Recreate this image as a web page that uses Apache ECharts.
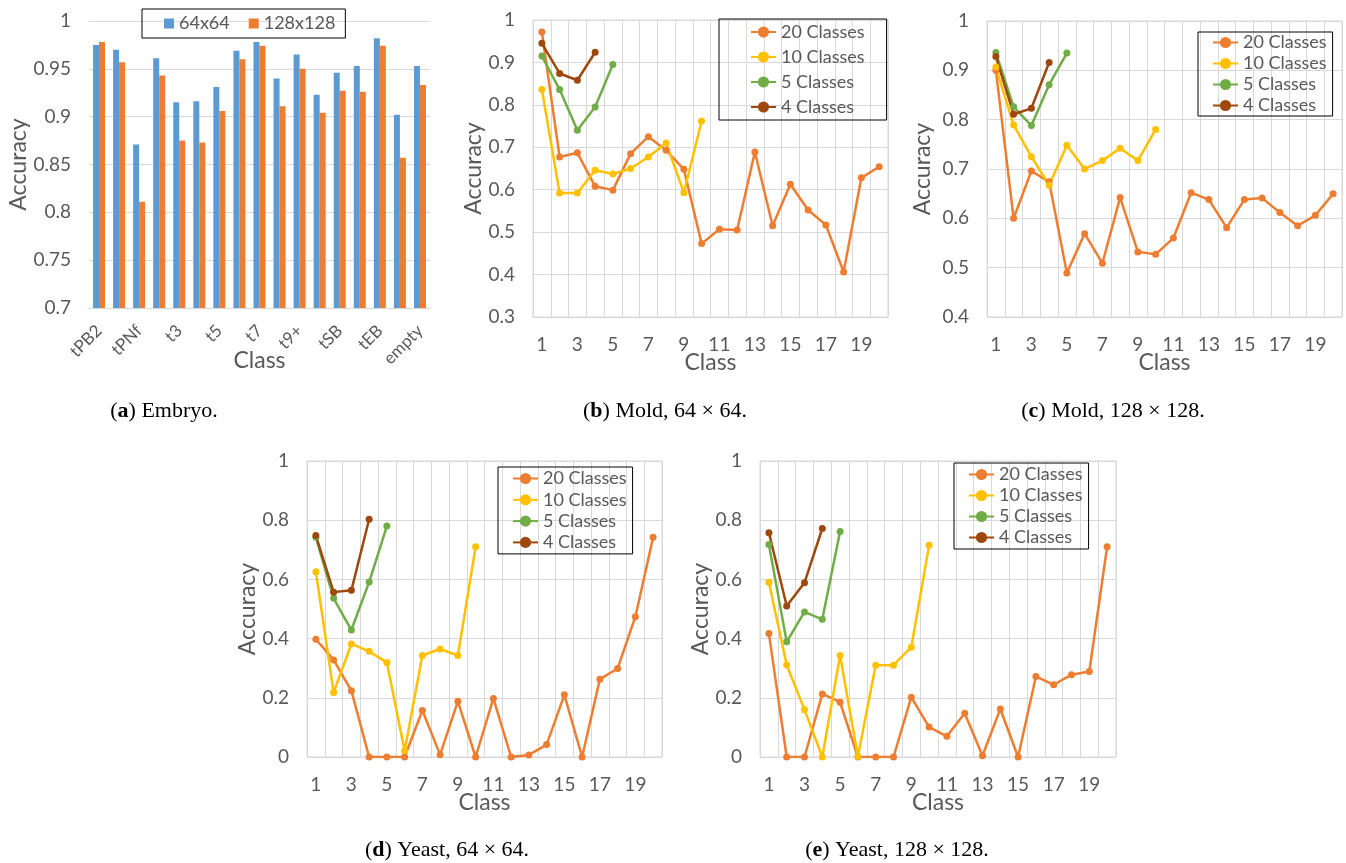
<!DOCTYPE html>
<html>
<head>
<meta charset="utf-8">
<script src="https://cdn.jsdelivr.net/npm/echarts@6/dist/echarts.min.js"></script>
<style>
html,body{margin:0;padding:0;background:#fff;}
#main{width:1346px;height:863px;}
</style>
</head>
<body>
<div id="main"></div>
<script>
// ---------- DATA ----------
const embryoClasses = ['tPB2','tPNa','tPNf','t2','t3','t4','t5','t6','t7','t8','t9+','tM','tSB','tB','tEB','tHB','empty'];
const embryo64  = [0.975,0.970,0.871,0.961,0.915,0.916,0.931,0.969,0.978,0.940,0.965,0.923,0.946,0.953,0.982,0.902,0.953];
const embryo128 = [0.978,0.957,0.811,0.943,0.875,0.873,0.906,0.960,0.974,0.911,0.950,0.904,0.927,0.926,0.974,0.857,0.933];

const classLabels = ['1','2','3','4','5','6','7','8','9','10','11','12','13','14','15','16','17','18','19','20'];
const seriesNames = ['20 Classes','10 Classes','5 Classes','4 Classes'];

// (b) Mold 64x64
const mold64_20 = [0.972,0.677,0.687,0.608,0.599,0.685,0.725,0.693,0.648,0.473,0.507,0.505,0.689,0.515,0.613,0.552,0.517,0.406,0.628,0.654];
const mold64_10 = [0.836,0.592,0.592,0.646,0.637,0.650,0.677,0.710,0.593,0.762];
const mold64_5  = [0.915,0.836,0.740,0.795,0.895];
const mold64_4  = [0.945,0.874,0.858,0.924];

// (c) Mold 128x128
const mold128_20 = [0.900,0.600,0.696,0.674,0.489,0.569,0.509,0.642,0.532,0.527,0.560,0.652,0.638,0.581,0.638,0.641,0.612,0.585,0.606,0.650];
const mold128_10 = [0.907,0.789,0.725,0.667,0.748,0.700,0.717,0.742,0.717,0.780];
const mold128_5  = [0.936,0.826,0.788,0.871,0.935];
const mold128_4  = [0.928,0.811,0.823,0.916];

// (d) Yeast 64x64
const yeast64_20 = [0.398,0.328,0.224,0,0,0,0.157,0.008,0.188,0,0.198,0,0.007,0.042,0.210,0,0.263,0.299,0.474,0.742];
const yeast64_10 = [0.626,0.218,0.382,0.357,0.319,0.021,0.343,0.365,0.343,0.710];
const yeast64_5  = [0.742,0.536,0.429,0.591,0.780];
const yeast64_4  = [0.748,0.557,0.563,0.803];

// (e) Yeast 128x128
const yeast128_20 = [0.417,0,0,0.213,0.185,0,0,0,0.202,0.101,0.070,0.148,0.004,0.162,0,0.272,0.244,0.278,0.289,0.710];
const yeast128_10 = [0.590,0.311,0.160,0,0.343,0.002,0.310,0.310,0.371,0.715];
const yeast128_5  = [0.718,0.389,0.490,0.465,0.762];
const yeast128_4  = [0.758,0.510,0.589,0.772];

const captions = [
  {pre:'(', b:'a', post:') Embryo.'},
  {pre:'(', b:'b', post:') Mold, 64 \u00d7 64.'},
  {pre:'(', b:'c', post:') Mold, 128 \u00d7 128.'},
  {pre:'(', b:'d', post:') Yeast, 64 \u00d7 64.'},
  {pre:'(', b:'e', post:') Yeast, 128 \u00d7 128.'}
];

// ---------- STYLE ----------
const FONT = 'Lato';
const TXT = '#595959';
const GRIDC = '#D9D9D9';
const lineColors = ['#ED7D31','#FFC000','#70AD47','#9E480E'];
const TICK_FS = 19, NAME_FS = 23, LEG_FS = 18;

const chart = echarts.init(document.getElementById('main'), null, {renderer:'canvas'});

const grids = [], xAxes = [], yAxes = [], series = [], legends = [], graphics = [];

// Panel (a)
grids.push({left:89, top:21, width:341, height:287});
xAxes.push({
  type:'category', gridIndex:0, data:embryoClasses,
  axisLine:{show:true, lineStyle:{color:GRIDC, width:1}},
  axisTick:{show:false},
  axisLabel:{interval:1, rotate:45, margin:20, color:TXT, fontFamily:FONT, fontSize:17},
  name:'Class', nameLocation:'middle', nameGap:41, nameMoveOverlap:false,
  nameTextStyle:{color:TXT, fontFamily:FONT, fontSize:NAME_FS}
});
yAxes.push({
  type:'value', gridIndex:0, min:0.7, max:1, interval:0.05,
  axisLine:{show:false}, axisTick:{show:false},
  splitLine:{lineStyle:{color:GRIDC, width:1}},
  axisLabel:{margin:18, color:TXT, fontFamily:FONT, fontSize:TICK_FS},
  name:'Accuracy', nameLocation:'middle', nameGap:59, nameMoveOverlap:false,
  nameTextStyle:{color:TXT, fontFamily:FONT, fontSize:NAME_FS}
});
series.push({type:'bar', name:'64x64', xAxisIndex:0, yAxisIndex:0, data:embryo64, barWidth:6, barGap:'0%', itemStyle:{color:'#5B9BD5'}});
series.push({type:'bar', name:'128x128', xAxisIndex:0, yAxisIndex:0, data:embryo128, barWidth:6, barGap:'0%', itemStyle:{color:'#ED7D31'}});
legends.push({
  data:['64x64','128x128'], left:142, top:9, orient:'horizontal',
  icon:'rect', itemWidth:10, itemHeight:10, itemGap:19,
  padding:[5,10,5,22], borderColor:'#000', borderWidth:1,
  textStyle:{color:TXT, fontFamily:FONT, fontSize:LEG_FS, lineHeight:19}, selectedMode:false
});

// Line panels
const panels = [
  {grid:{left:533, top:20, width:355, height:297}, min:0.3, max:1, interval:0.1, data:[mold64_20, mold64_10, mold64_5, mold64_4],
   legend:{left:719, top:19, padding:[3,22,3,31], gap:5, lh:20}, yGap:48},
  {grid:{left:987, top:21, width:355, height:296}, min:0.4, max:1, interval:0.1, data:[mold128_20, mold128_10, mold128_5, mold128_4],
   legend:{left:1198, top:32, padding:[1,6,1,14], gap:2, lh:19}, yGap:53},
  {grid:{left:307, top:461, width:355, height:296}, min:0, max:1, interval:0.2, data:[yeast64_20, yeast64_10, yeast64_5, yeast64_4],
   legend:{left:498, top:467, padding:[2,6,2,14], gap:2.3, lh:19}, yGap:48},
  {grid:{left:760, top:461, width:356, height:296}, min:0, max:1, interval:0.2, data:[yeast128_20, yeast128_10, yeast128_5, yeast128_4],
   legend:{left:954, top:463, padding:[2,6,2,14], gap:2, lh:19}, yGap:48}
];

panels.forEach((p, i) => {
  const gi = i + 1;
  grids.push(Object.assign({show:true, borderColor:GRIDC, borderWidth:1, backgroundColor:'transparent'}, p.grid));
  xAxes.push({
    type:'category', gridIndex:gi, data:classLabels, boundaryGap:true,
    axisLine:{show:false}, axisTick:{show:false, interval:0},
    axisLabel:{interval:1, margin:18, color:TXT, fontFamily:FONT, fontSize:TICK_FS},
    splitLine:{show:true, interval:0, lineStyle:{color:GRIDC, width:1}},
    name:'Class', nameLocation:'middle', nameGap:34, nameMoveOverlap:false,
    nameTextStyle:{color:TXT, fontFamily:FONT, fontSize:NAME_FS}
  });
  yAxes.push({
    type:'value', gridIndex:gi, min:p.min, max:p.max, interval:p.interval,
    axisLine:{show:false}, axisTick:{show:false},
    splitLine:{lineStyle:{color:GRIDC, width:1}},
    axisLabel:{margin:18, color:TXT, fontFamily:FONT, fontSize:TICK_FS},
    name:'Accuracy', nameLocation:'middle', nameGap:p.yGap, nameMoveOverlap:false,
    nameTextStyle:{color:TXT, fontFamily:FONT, fontSize:NAME_FS}
  });
  p.data.forEach((arr, k) => {
    series.push({
      type:'line', name:seriesNames[k], xAxisIndex:gi, yAxisIndex:gi, data:arr,
      symbol:'circle', symbolSize:7, showSymbol:true,
      lineStyle:{color:lineColors[k], width:2.5},
      itemStyle:{color:lineColors[k], borderWidth:0},
      emphasis:{disabled:true}, animation:false
    });
  });
  legends.push({
    data:seriesNames, left:p.legend.left, top:p.legend.top, orient:'vertical',
    itemWidth:25, itemHeight:14, itemGap:p.legend.gap,
    padding:p.legend.padding, borderColor:'#000', borderWidth:1,
    textStyle:{color:TXT, fontFamily:FONT, fontSize:LEG_FS, lineHeight:p.legend.lh}, selectedMode:false
  });
});

// Captions
const capPos = [[164,411],[665,411],[1113,411],[447,850],[897,850]];
captions.forEach((c, i) => {
  graphics.push({
    type:'text', x:capPos[i][0], y:capPos[i][1],
    style:{
      text: c.pre + '{b|' + c.b + '}' + c.post,
      fontFamily:'Liberation Serif', fontSize:22, fill:'#000',
      textAlign:'center', textVerticalAlign:'middle',
      rich:{b:{fontFamily:'Liberation Serif', fontSize:22, fontWeight:'bold', fill:'#000'}}
    }
  });
});

chart.setOption({
  animation:false,
  backgroundColor:'#fff',
  textStyle:{fontFamily:FONT},
  grid:grids, xAxis:xAxes, yAxis:yAxes, series:series, legend:legends,
  graphic:{elements:graphics}
});
</script>
</body>
</html>
